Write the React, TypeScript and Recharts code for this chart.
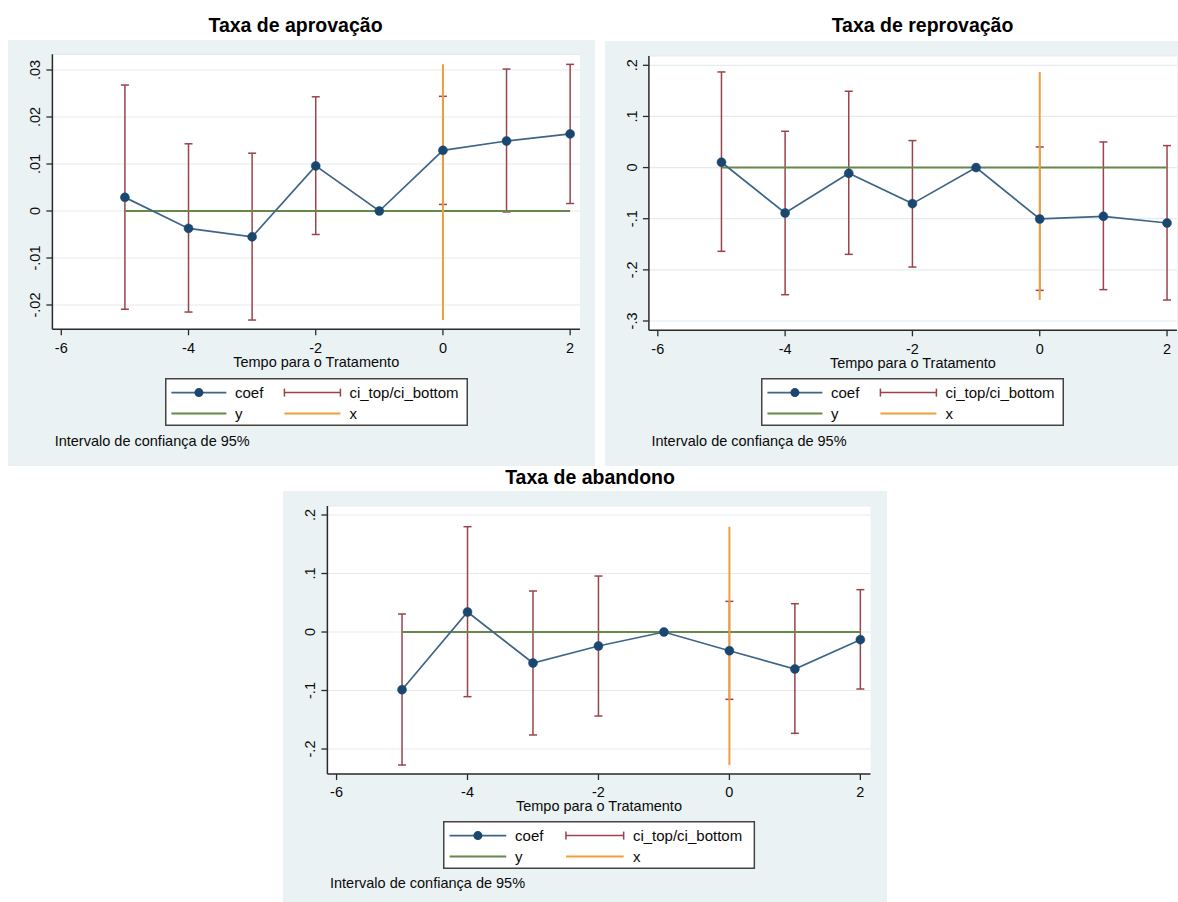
import React from 'react';
import { ComposedChart, Line, Scatter, ErrorBar, XAxis, YAxis, CartesianGrid } from 'recharts';

const FONT = '"Liberation Sans", Arial, Helvetica, sans-serif';

// event time (periods relative to treatment)
const periods = [-5, -4, -3, -2, -1, 0, 1, 2];

// Taxa de aprovação
const aprovCoef = [0.0029, -0.0037, -0.0055, 0.0096, 0, 0.0129, 0.0149, 0.0164];
const aprovTop = [0.0268, 0.0143, 0.0123, 0.0243, null, 0.0244, 0.0302, 0.0312];
const aprovBottom = [-0.0209, -0.0215, -0.0232, -0.005, null, 0.0014, -0.0002, 0.0016];

// Taxa de reprovação
const reproCoef = [0.0104, -0.0888, -0.0112, -0.0705, 0, -0.1005, -0.0953, -0.1084];
const reproTop = [0.187, 0.071, 0.1493, 0.0528, null, 0.0403, 0.0501, 0.043];
const reproBottom = [-0.1638, -0.2486, -0.1697, -0.1945, null, -0.2401, -0.2387, -0.259];

// Taxa de abandono
const abandCoef = [-0.0986, 0.0342, -0.053, -0.0239, 0, -0.032, -0.0632, -0.0131];
const abandTop = [0.0308, 0.18, 0.0701, 0.0957, null, 0.0524, 0.0484, 0.0724];
const abandBottom = [-0.2274, -0.1105, -0.176, -0.1436, null, -0.1151, -0.1732, -0.0974];

const xTicks = [-6, -4, -2, 0, 2];
const aprovTicks = [-0.02, -0.01, 0, 0.01, 0.02, 0.03];
const reproTicks = [-0.3, -0.2, -0.1, 0, 0.1, 0.2];
const abandTicks = [-0.2, -0.1, 0, 0.1, 0.2];

const legendLabels = ['coef', 'ci_top/ci_bottom', 'y', 'x'];
const axisTitle = 'Tempo para o Tratamento';
const note = 'Intervalo de confiança de 95%';

const BG = '#eaf2f3';
const NAVY = '#1a476f';
const COEF_LINE = '#3e6588';
const MAROON = '#9b434a';
const GREEN = '#66884a';
const ORANGE = '#ee9f3c';
const AXIS = '#2a2a2a';
const TXT = '#0a0a0a';

// stata style: .03, -.01, 0
const fmt = (v: number) => (v === 0 ? '0' : String(v).replace(/^(-?)0\./, '$1.'));

const YTick = (props: any) => {
  const { x, y, payload } = props;
  return (
    <text
      x={0}
      y={0}
      transform={`translate(${x - 4},${y}) rotate(-90)`}
      textAnchor="middle"
      fontSize={14.5}
      fill={TXT}
      fontFamily={FONT}
    >
      {fmt(payload.value)}
    </text>
  );
};

type PanelProps = {
  title: string;
  titleX: number;
  titleY: number;
  box: { left: number; top: number; width: number; height: number };
  plot: { left: number; top: number; right: number; bottom: number };
  xDomain: number[];
  yDomain: number[];
  yTicks: number[];
  coef: number[];
  ciTop: (number | null)[];
  ciBottom: (number | null)[];
  legend: { left: number; top: number; k: number };
  noteAt: { x: number; y: number };
};

function Panel(p: PanelProps) {
  const coefRows = periods.map((x, i) => ({ x, y: p.coef[i] }));
  const ciRows = periods
    .map((x, i) => ({ x, y: p.coef[i], top: p.ciTop[i], bottom: p.ciBottom[i] }))
    .filter((r) => r.top !== null && r.bottom !== null)
    .map((r) => ({ x: r.x, y: r.y, err: [r.y - (r.bottom as number), (r.top as number) - r.y] }));
  const tops = p.ciTop.filter((v) => v !== null) as number[];
  const bottoms = p.ciBottom.filter((v) => v !== null) as number[];
  const yLine = [
    { x: periods[0], y: 0 },
    { x: periods[periods.length - 1], y: 0 },
  ];
  const xLine = [
    { x: 0, y: Math.min(...bottoms) },
    { x: 0, y: Math.max(...tops) },
  ];

  const { box, plot } = p;
  const xAxisH = 40;
  const margin = {
    top: plot.top - box.top,
    right: box.left + box.width - plot.right,
    left: 0,
    bottom: box.top + box.height - plot.bottom - xAxisH,
  };
  const k = p.legend.k;
  const lw = 303 * k;
  const r1 = 14.6;
  const r2 = 35.6;

  return (
    <>
      <div
        style={{
          position: 'absolute',
          left: p.titleX - 200,
          top: p.titleY - 12,
          width: 400,
          lineHeight: '24px',
          textAlign: 'center',
          fontWeight: 'bold',
          fontSize: 19.5,
          color: '#000',
        }}
      >
        {p.title}
      </div>
      <div style={{ position: 'absolute', left: box.left, top: box.top, width: box.width, height: box.height, background: BG }}>
        <ComposedChart width={box.width} height={box.height} data={coefRows} margin={margin}>
          <CartesianGrid vertical={false} stroke="#e3ecef" strokeWidth={1.2} fill="#ffffff" fillOpacity={1} />
          <XAxis
            type="number"
            dataKey="x"
            domain={p.xDomain}
            ticks={xTicks}
            height={xAxisH}
            tickSize={6}
            tickMargin={7}
            axisLine={{ stroke: AXIS, strokeWidth: 1.5 }}
            tickLine={{ stroke: AXIS, strokeWidth: 1.3 }}
            tick={{ fontSize: 14.5, fill: TXT, fontFamily: FONT }}
            allowDataOverflow
            label={{ value: axisTitle, position: 'insideTop', offset: 27, fontSize: 14.5, fill: TXT, fontFamily: FONT }}
          />
          <YAxis
            type="number"
            domain={p.yDomain}
            ticks={p.yTicks}
            width={plot.left - box.left}
            tickSize={6}
            tickMargin={2}
            axisLine={{ stroke: AXIS, strokeWidth: 1.5 }}
            tickLine={{ stroke: AXIS, strokeWidth: 1.3 }}
            tick={<YTick />}
            allowDataOverflow
          />
          <Scatter data={ciRows} dataKey="y" shape={() => <g />} isAnimationActive={false}>
            <ErrorBar dataKey="err" direction="y" width={4} stroke={MAROON} strokeWidth={1.5} isAnimationActive={false} />
          </Scatter>
          <Line data={yLine} dataKey="y" stroke={GREEN} strokeWidth={2} dot={false} activeDot={false} isAnimationActive={false} />
          <Line data={xLine} dataKey="y" stroke={ORANGE} strokeWidth={2} dot={false} activeDot={false} isAnimationActive={false} />
          <Line
            dataKey="y"
            stroke={COEF_LINE}
            strokeWidth={1.7}
            dot={{ r: 4.5, fill: NAVY, stroke: NAVY, strokeWidth: 0.5 }}
            activeDot={false}
            isAnimationActive={false}
          />
        </ComposedChart>
      </div>
      <svg
        style={{ position: 'absolute', left: p.legend.left, top: p.legend.top, overflow: 'visible' }}
        width={lw}
        height={48}
      >
        <rect x={0.75} y={0.75} width={lw - 1.5} height={46.5} fill="#fff" stroke="#444" strokeWidth={1.5} />
        <line x1={6.4 * k} x2={61.4 * k} y1={r1} y2={r1} stroke={COEF_LINE} strokeWidth={1.7} />
        <circle cx={33.9 * k} cy={r1} r={4.5} fill={NAVY} />
        <line x1={119.4 * k} x2={175.4 * k} y1={r1} y2={r1} stroke={MAROON} strokeWidth={1.5} />
        <line x1={119.4 * k} x2={119.4 * k} y1={r1 - 4} y2={r1 + 4} stroke={MAROON} strokeWidth={1.5} />
        <line x1={175.4 * k} x2={175.4 * k} y1={r1 - 4} y2={r1 + 4} stroke={MAROON} strokeWidth={1.5} />
        <line x1={6.4 * k} x2={61.4 * k} y1={r2} y2={r2} stroke={GREEN} strokeWidth={2} />
        <line x1={119.4 * k} x2={175.4 * k} y1={r2} y2={r2} stroke={ORANGE} strokeWidth={2} />
        <g fontFamily={FONT} fontSize={15} fill={TXT}>
          <text x={70 * k} y={r1 + 5.3}>{legendLabels[0]}</text>
          <text x={184.4 * k} y={r1 + 5.3}>{legendLabels[1]}</text>
          <text x={70 * k} y={r2 + 5.3}>{legendLabels[2]}</text>
          <text x={184.4 * k} y={r2 + 5.3}>{legendLabels[3]}</text>
        </g>
      </svg>
      <div
        style={{
          position: 'absolute',
          left: p.noteAt.x,
          top: p.noteAt.y - 9,
          lineHeight: '18px',
          fontSize: 14.5,
          color: TXT,
          whiteSpace: 'nowrap',
        }}
      >
        {note}
      </div>
    </>
  );
}

export default function App() {
  const xDomain = [-6.14, 2.155];
  return (
    <div
      style={{
        position: 'absolute',
        left: 0,
        top: 0,
        width: 1178,
        height: 902,
        background: '#fff',
        overflow: 'hidden',
        fontFamily: FONT,
      }}
    >
      <Panel
        title="Taxa de aprovação"
        titleX={295.5}
        titleY={25}
        box={{ left: 8, top: 40, width: 587, height: 426 }}
        plot={{ left: 52.4, top: 54.3, right: 580, bottom: 329.3 }}
        xDomain={xDomain}
        yDomain={[-0.02517, 0.03334]}
        yTicks={aprovTicks}
        coef={aprovCoef}
        ciTop={aprovTop}
        ciBottom={aprovBottom}
        legend={{ left: 164.6, top: 377.7, k: 1 }}
        noteAt={{ x: 54.7, y: 440.7 }}
      />
      <Panel
        title="Taxa de reprovação"
        titleX={922.5}
        titleY={25}
        box={{ left: 605.4, top: 40.7, width: 572.6, height: 425.3 }}
        plot={{ left: 649.3, top: 55.7, right: 1177.3, bottom: 330 }}
        xDomain={xDomain}
        yDomain={[-0.3182, 0.2182]}
        yTicks={reproTicks}
        coef={reproCoef}
        ciTop={reproTop}
        ciBottom={reproBottom}
        legend={{ left: 761, top: 378, k: 1 }}
        noteAt={{ x: 651.5, y: 441 }}
      />
      <Panel
        title="Taxa de abandono"
        titleX={590}
        titleY={477}
        box={{ left: 283, top: 491, width: 604, height: 411 }}
        plot={{ left: 327.4, top: 506, right: 870.5, bottom: 774 }}
        xDomain={xDomain}
        yDomain={[-0.2427, 0.2154]}
        yTicks={abandTicks}
        coef={abandCoef}
        ciTop={abandTop}
        ciBottom={abandBottom}
        legend={{ left: 443, top: 821, k: 1.03 }}
        noteAt={{ x: 330, y: 882.7 }}
      />
    </div>
  );
}
